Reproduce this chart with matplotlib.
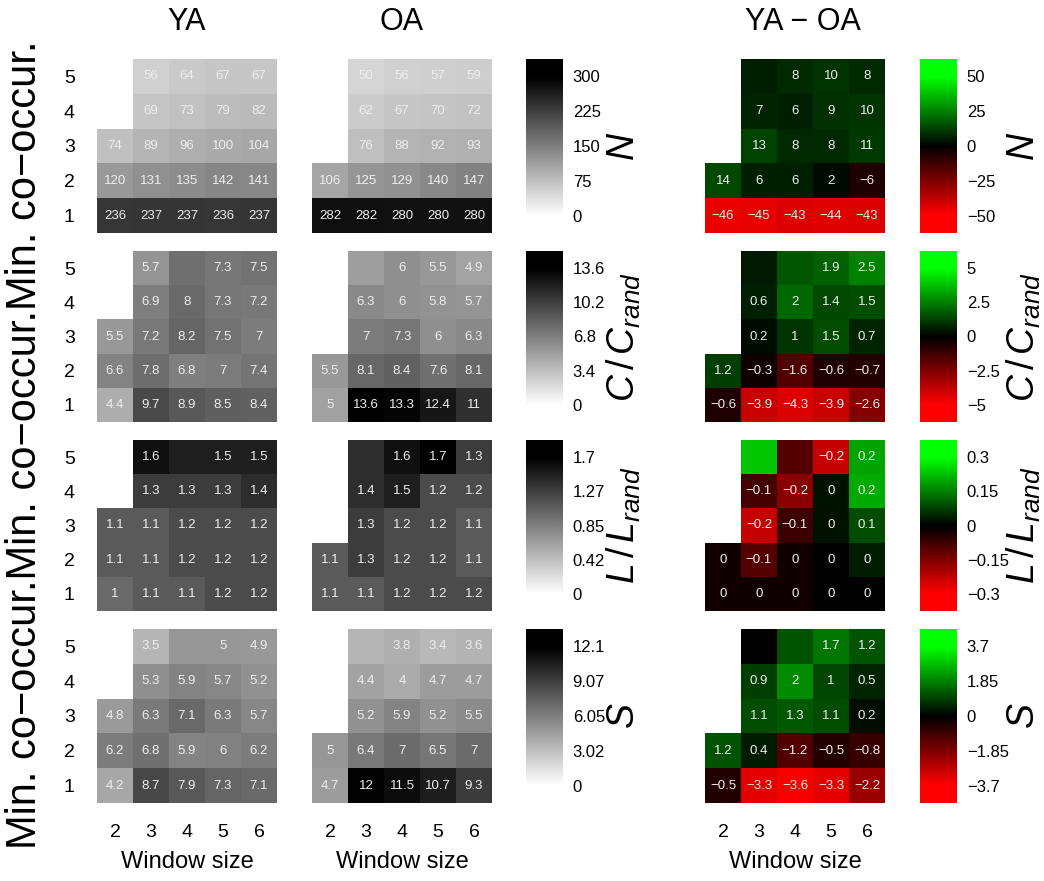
import numpy as np
import matplotlib
matplotlib.use("Agg")
import matplotlib.pyplot as plt
from matplotlib.colors import LinearSegmentedColormap

plt.rcParams["font.family"] = ["Liberation Sans", "DejaVu Sans"]
plt.rcParams["mathtext.fontset"] = "custom"
plt.rcParams["mathtext.rm"] = "Liberation Sans"
plt.rcParams["mathtext.it"] = "Liberation Sans:italic"

nan = np.nan

# rows: min. co-occurrence 1..5 (bottom to top), columns: window size 2..6
windows = [2, 3, 4, 5, 6]
min_cooccur = [1, 2, 3, 4, 5]

ya_n = [[236, 237, 237, 236, 237],
        [120, 131, 135, 142, 141],
        [74, 89, 96, 100, 104],
        [nan, 69, 73, 79, 82],
        [nan, 56, 64, 67, 67]]
oa_n = [[282, 282, 280, 280, 280],
        [106, 125, 129, 140, 147],
        [nan, 76, 88, 92, 93],
        [nan, 62, 67, 70, 72],
        [nan, 50, 56, 57, 59]]
diff_n = [[-46, -45, -43, -44, -43],
          [14, 6, 6, 2, -6],
          [nan, 13, 8, 8, 11],
          [nan, 7, 6, 9, 10],
          [nan, 6, 8, 10, 8]]

ya_c = [[4.4, 9.7, 8.9, 8.5, 8.4],
        [6.6, 7.8, 6.8, 7.0, 7.4],
        [5.5, 7.2, 8.2, 7.5, 7.0],
        [nan, 6.9, 8.0, 7.3, 7.2],
        [nan, 5.7, 7.7, 7.3, 7.5]]
oa_c = [[5.0, 13.6, 13.3, 12.4, 11.0],
        [5.5, 8.1, 8.4, 7.6, 8.1],
        [nan, 7.0, 7.3, 6.0, 6.3],
        [nan, 6.3, 6.0, 5.8, 5.7],
        [nan, 5.2, 6.0, 5.5, 4.9]]
diff_c = [[-0.6, -3.9, -4.3, -3.9, -2.6],
          [1.2, -0.3, -1.6, -0.6, -0.7],
          [nan, 0.2, 1.0, 1.5, 0.7],
          [nan, 0.6, 2.0, 1.4, 1.5],
          [nan, 0.5, 1.7, 1.9, 2.5]]

ya_l = [[1.0, 1.1, 1.1, 1.2, 1.2],
        [1.1, 1.1, 1.2, 1.2, 1.2],
        [1.1, 1.1, 1.2, 1.2, 1.2],
        [nan, 1.3, 1.3, 1.3, 1.4],
        [nan, 1.6, 1.5, 1.5, 1.5]]
oa_l = [[1.1, 1.1, 1.2, 1.2, 1.2],
        [1.1, 1.3, 1.2, 1.2, 1.1],
        [nan, 1.3, 1.2, 1.2, 1.1],
        [nan, 1.4, 1.5, 1.2, 1.2],
        [nan, 1.4, 1.6, 1.7, 1.3]]
diff_l = [[-0.02, -0.02, -0.02, 0.0, 0.0],
          [-0.02, -0.1, -0.02, 0.0, 0.035],
          [nan, -0.23, -0.07, 0.02, 0.09],
          [nan, -0.08, -0.16, 0.02, 0.2],
          [nan, 0.23, -0.1, -0.23, 0.19]]

ya_s = [[4.2, 8.7, 7.9, 7.3, 7.1],
        [6.2, 6.8, 5.9, 6.0, 6.2],
        [4.8, 6.3, 7.1, 6.3, 5.7],
        [nan, 5.3, 5.9, 5.7, 5.2],
        [nan, 3.5, 5.0, 5.0, 4.9]]
oa_s = [[4.7, 12.0, 11.5, 10.7, 9.3],
        [5.0, 6.4, 7.0, 6.5, 7.0],
        [nan, 5.2, 5.9, 5.2, 5.5],
        [nan, 4.4, 4.0, 4.7, 4.7],
        [nan, 3.5, 3.8, 3.4, 3.6]]
diff_s = [[-0.5, -3.3, -3.6, -3.3, -2.2],
          [1.2, 0.4, -1.2, -0.5, -0.8],
          [nan, 1.1, 1.3, 1.1, 0.2],
          [nan, 0.9, 2.0, 1.0, 0.5],
          [nan, 0.0, 1.2, 1.7, 1.2]]

ya_data = [ya_n, ya_c, ya_l, ya_s]
oa_data = [oa_n, oa_c, oa_l, oa_s]
diff_data = [diff_n, diff_c, diff_l, diff_s]

# cells drawn without a number (min. co-occur, window)
ya_unlabeled = [[], [(5, 4)], [(5, 4)], [(5, 4)]]
oa_unlabeled = [[], [(5, 3)], [(5, 3)], [(5, 3)]]
diff_unlabeled = [[(5, 3)], [(5, 3), (5, 4)], [(5, 3), (5, 4)], [(5, 3), (5, 4)]]

metric_labels = [r"$N$", r"$C\,/\,C_{rand}$", r"$L\,/\,L_{rand}$", r"$S$"]
gray_max = [300, 13.6, 1.7, 12.1]
diff_max = [50, 5, 0.3, 3.7]

W, H = 1044, 881
fig = plt.figure(figsize=(W / 100, H / 100), dpi=100)

gray_cmap = LinearSegmentedColormap.from_list("gr", ["#ffffff", "#000000"])
rg_cmap = LinearSegmentedColormap.from_list("rg", ["#ff0000", "#000000", "#00ff00"])

row_top = [59, 251, 440, 629]
row_h = [174, 171, 171, 174]
col_x = {"ya": (97, 180), "oa": (312, 180), "gbar": (526, 37),
         "diff": (705, 180), "dbar": (920, 37)}


def px_axes(x, w, top, h):
    return fig.add_axes([x / W, 1 - (top + h) / H, w / W, h / H])


def fmt(v):
    s = "%g" % (round(v, 1) + 0.0)
    return s.replace("-", "\u2212")


def heat(ax, data, cmap, vmin, vmax, hidden, bottom, left):
    arr = np.ma.masked_invalid(np.array(data, dtype=float))
    xe = np.arange(len(windows) + 1) + windows[0] - 0.5
    ye = np.arange(len(min_cooccur) + 1) + min_cooccur[0] - 0.5
    ax.pcolormesh(xe, ye, arr, cmap=cmap, vmin=vmin, vmax=vmax)
    for i, mc in enumerate(min_cooccur):
        for j, w in enumerate(windows):
            v = data[i][j]
            if np.isnan(v) or (mc, w) in hidden:
                continue
            ax.text(w, mc, fmt(v), ha="center", va="center",
                    fontsize=9.5, color="#eeeeee")
    ax.set_xlim(xe[0], xe[-1])
    ax.set_ylim(ye[0], ye[-1])
    for sp in ax.spines.values():
        sp.set_visible(False)
    ax.tick_params(length=0, labelsize=14)
    ax.set_xticks(windows)
    ax.set_yticks(min_cooccur)
    ax.tick_params(axis="x", pad=15)
    ax.tick_params(axis="y", pad=16)
    if not bottom:
        ax.set_xticklabels([])
    if not left:
        ax.set_yticklabels([])


def bar(ax, cmap, vmax, symmetric):
    vmin = -vmax if symmetric else 0
    step = (vmax - vmin) / 4
    lo, hi = vmin - step / 2, vmax + step / 2
    grad = np.linspace(lo, hi, 256).reshape(-1, 1)
    ax.imshow(grad, cmap=cmap, vmin=vmin, vmax=vmax, aspect="auto",
              origin="lower", extent=(0, 1, lo, hi))
    ax.set_ylim(lo, hi)
    ax.set_xticks([])
    ticks = np.linspace(vmin, vmax, 5)
    ax.set_yticks(ticks)
    ax.set_yticklabels([("%g" % (round(t, 2) + 0.0)).replace("-", "\u2212")
                        for t in ticks])
    ax.yaxis.tick_right()
    ax.tick_params(length=0, pad=7, labelsize=12)
    for sp in ax.spines.values():
        sp.set_visible(False)


for r in range(4):
    top, h = row_top[r], row_h[r]
    last = r == 3
    ax = px_axes(*col_x["ya"], top, h)
    heat(ax, ya_data[r], gray_cmap, 0, gray_max[r], ya_unlabeled[r], last, True)
    ax = px_axes(*col_x["oa"], top, h)
    heat(ax, oa_data[r], gray_cmap, 0, gray_max[r], oa_unlabeled[r], last, False)
    ax = px_axes(*col_x["diff"], top, h)
    heat(ax, diff_data[r], rg_cmap, -diff_max[r], diff_max[r], diff_unlabeled[r], last, False)
    cax = px_axes(*col_x["gbar"], top, h)
    bar(cax, gray_cmap, gray_max[r], False)
    cax = px_axes(*col_x["dbar"], top, h)
    bar(cax, rg_cmap, diff_max[r], True)
    yc = 1 - (top + h / 2) / H
    fig.text(624 / W, yc, metric_labels[r], rotation=90, ha="center", va="center",
             fontsize=27)
    fig.text(1024 / W, yc, metric_labels[r], rotation=90, ha="center", va="center",
             fontsize=27)

for key, title in [("ya", "YA"), ("oa", "OA"), ("diff", "YA \u2212 OA")]:
    x, w = col_x[key]
    xc = x + w / 2 + (8 if key == "diff" else 0)
    fig.text(xc / W, 1 - 22 / H, title, ha="center", va="center", fontsize=22)
    fig.text((x + w / 2) / W, 1 - 862 / H, "Window size", ha="center", va="center",
             fontsize=17)

fig.text(25 / W, 1 - 445 / H, "Min. co\u2212occur.Min. co\u2212occur.Min. co\u2212occur.",
         rotation=90, ha="center", va="center", fontsize=30)

fig.savefig("out.png", dpi=100)
